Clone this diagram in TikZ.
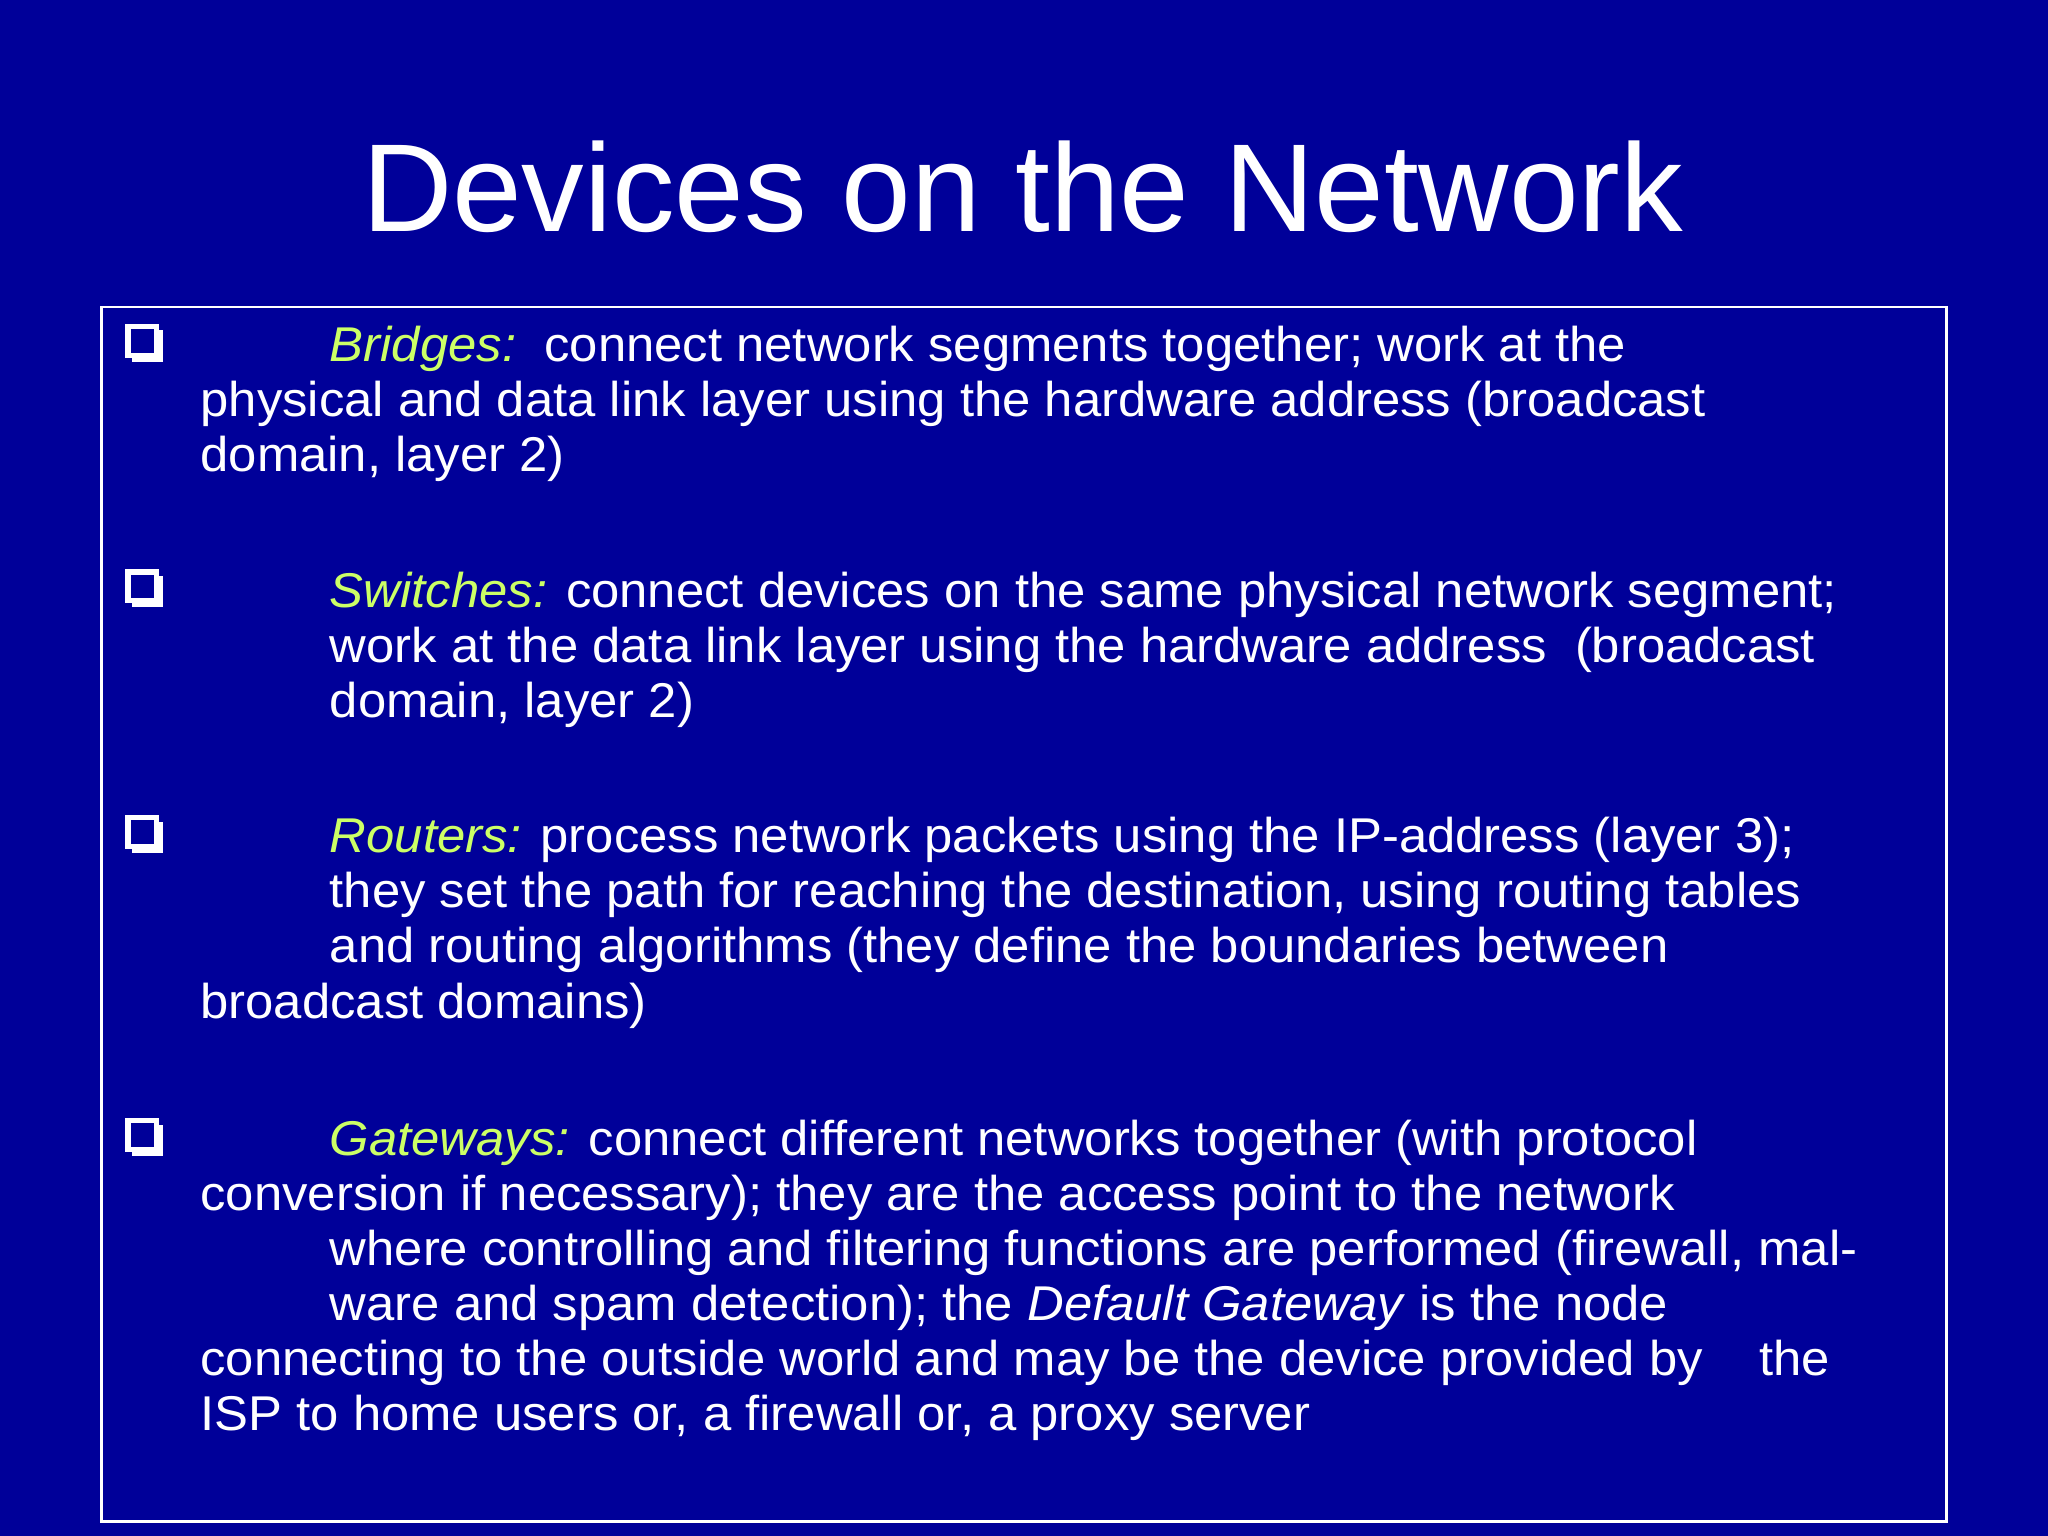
\documentclass[tikz,border=0pt]{standalone}
\usepackage{fontspec}
\setmainfont{Liberation Sans}
\newfontfamily\bodyfont[FakeStretch=1.04]{Liberation Sans}
\definecolor{bg}{RGB}{0,0,153}
\definecolor{gr}{RGB}{204,255,102}
\begin{document}
\begin{tikzpicture}[x=0.013061cm,y=-0.013061cm,
  ln/.style={anchor=base west,inner sep=0,text=white,font=\bodyfont\fontsize{13.9}{16}\selectfont},
  hd/.style={text=gr}]
\fill[bg] (0,0) rectangle (1568,1176);
\useasboundingbox (0,0) rectangle (1568,1176);
\node[text=white,font=\fontsize{35.6}{44}\selectfont] (title) at (783,143) {Devices on the Network};
\draw[white,line width=0.8pt] (78,235) rectangle (1490,1165);
\foreach \y/\n in {250/a,438/b,626/c,858/d}{
  \fill[white] (101,\y+3) rectangle (125,\y+27);
  \filldraw[fill=bg,draw=white,line width=1.5pt] (98,\y) rectangle (120,\y+22);
}
\node[ln] (a1) at (252,277) {\textit{\color{gr}Bridges:}\ \ connect network segments together; work at the};
\node[ln] (a2) at (153,319) {physical and data link layer using the hardware address (broadcast};
\node[ln] (a3) at (153,361) {domain, layer 2)};
\node[ln] (b1) at (252,465) {\textit{\color{gr}Switches:} connect devices on the same physical network segment;};
\node[ln] (b2) at (252,507) {work at the data link layer using the hardware address\ \ (broadcast};
\node[ln] (b3) at (252,549) {domain, layer 2)};
\node[ln] (c1) at (252,653) {\textit{\color{gr}Routers:} process network packets using the IP-address (layer 3);};
\node[ln] (c2) at (252,695) {they set the path for reaching the destination, using routing tables};
\node[ln] (c3) at (252,737) {and routing algorithms (they define the boundaries between};
\node[ln] (c4) at (153,780) {broadcast domains)};
\node[ln] (d1) at (252,885) {\textit{\color{gr}Gateways:} connect different networks together (with protocol};
\node[ln] (d2) at (153,927) {conversion if necessary); they are the access point to the network};
\node[ln] (d3) at (252,969) {where controlling and filtering functions are performed (firewall, mal-};
\node[ln] (d4) at (252,1011) {ware and spam detection); the \textit{Default Gateway} is the node};
\node[ln] (d5) at (153,1053) {connecting to the outside world and may be the device provided by\ \ \ \ the};
\node[ln] (d6) at (153,1095) {ISP to home users or, a firewall or, a proxy server};
\end{tikzpicture}
\end{document}
